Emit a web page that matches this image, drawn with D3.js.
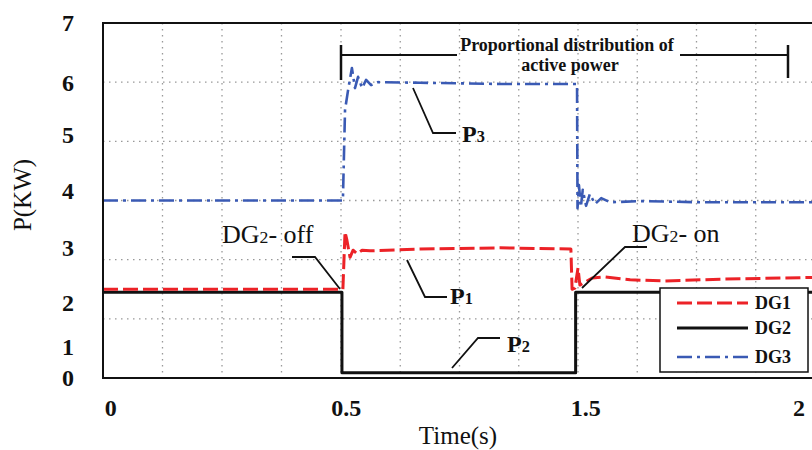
<!DOCTYPE html>
<html>
<head>
<meta charset="utf-8">
<script src="https://cdn.jsdelivr.net/npm/d3@7"></script>
<style>
    body { margin: 0; background: #fff; }
    svg text { font-family: "Liberation Serif", "Times New Roman", serif; fill: #111; }
</style>
</head>
<body>
<svg id="chart" width="812" height="450"></svg>
<script>
// Tick labels as printed on the figure (positions given in plot units)
var xTickText = ['0', '0.5', '1.5', '2'];
var xTickAt = [0.01, 0.51, 1.51, 1.96];
var yTickText = ['7', '6', '5', '4', '3', '2', '1', '0'];
var yTickAt = [7.0, 6.0, 5.12, 4.17, 3.2, 2.28, 1.53, 1.0];

// Grid
var xGrid = [0.125, 0.25, 0.375, 0.5, 0.75, 1.0, 1.25, 1.5, 1.625, 1.75, 1.875];
var yGrid = [2, 3, 4, 5, 6];

// Series: time (s), power (plot units)
var dg1T = [0, 0.5, 0.508, 0.517, 0.525, 0.538, 0.551, 0.568, 0.589, 0.622, 0.833, 1.171, 1.47, 1.475, 1.487, 1.5, 1.504, 1.513, 1.53, 1.557, 1.61, 1.684, 1.8, 2.0];
var dg1P = [2.5, 2.5, 2.5, 3.47, 3.33, 3.04, 3.16, 3.10, 3.16, 3.15, 3.18, 3.2, 3.18, 2.5, 2.52, 2.86, 2.57, 2.61, 2.69, 2.71, 2.66, 2.64, 2.67, 2.7];

var dg2T = [0, 0.504, 0.504, 1.49, 1.49, 2.0];
var dg2P = [2.45, 2.45, 1.09, 1.09, 2.45, 2.45];

var dg3T = [0, 0.508, 0.517, 0.53, 0.546, 0.559, 0.572, 0.589, 0.606, 0.627, 0.656, 0.833, 1.17, 1.487, 1.496, 1.498, 1.502, 1.506, 1.51, 1.517, 1.525, 1.536, 1.549, 1.568, 1.631, 1.757, 2.0];
var dg3P = [4.0, 4.0, 5.53, 5.87, 6.24, 5.9, 6.09, 5.9, 6.04, 5.95, 6.0, 5.99, 5.97, 5.97, 5.97, 3.87, 4.26, 3.89, 4.18, 3.91, 4.11, 3.94, 4.04, 3.97, 3.99, 3.97, 3.97];

var legendNames = ['DG1', 'DG2', 'DG3'];

var svg = d3.select('#chart');
var L = 103, T = 23, R = 815, B = 378;

var x = d3.scaleLinear().domain([0, 0.5, 1.5, 2]).range([L, 341, 578, R]);
var y = d3.scaleLinear().domain([1, 7]).range([B, T]);

// dotted grid
svg.append('g').selectAll('line').data(xGrid).enter().append('line')
    .attr('x1', function(d){ return x(d); }).attr('x2', function(d){ return x(d); })
    .attr('y1', T).attr('y2', B)
    .attr('stroke', '#999').attr('stroke-width', 1.3).attr('stroke-dasharray', '1.5,4.5');
svg.append('g').selectAll('line').data(yGrid).enter().append('line')
    .attr('x1', L).attr('x2', R)
    .attr('y1', function(d){ return y(d); }).attr('y2', function(d){ return y(d); })
    .attr('stroke', '#999').attr('stroke-width', 1.3).attr('stroke-dasharray', '1.5,4.5');

// series
function pts(ts, ps){ return ts.map(function(t, i){ return [t, ps[i]]; }); }
var line = d3.line().x(function(d){ return x(d[0]); }).y(function(d){ return y(d[1]); });

var series = [
    {data: pts(dg2T, dg2P), color: '#111', width: 3, dash: null},
    {data: pts(dg3T, dg3P), color: '#3a5ab4', width: 2.6, dash: '15,5,3,5'},
    {data: pts(dg1T, dg1P), color: '#ec2227', width: 3, dash: '15,5'}
];
svg.append('g').selectAll('path').data(series).enter().append('path')
    .attr('d', function(d){ return line(d.data); })
    .attr('fill', 'none')
    .attr('stroke', function(d){ return d.color; })
    .attr('stroke-width', function(d){ return d.width; })
    .attr('stroke-dasharray', function(d){ return d.dash; })
    .attr('stroke-linejoin', 'round');

// frame
svg.append('rect').attr('x', L).attr('y', T).attr('width', R - L).attr('height', B - T)
    .attr('fill', 'none').attr('stroke', '#111').attr('stroke-width', 2);

// tick labels
svg.append('g').selectAll('text').data(xTickText).enter().append('text')
    .attr('x', function(d, i){ return x(xTickAt[i]) + 3; })
    .attr('y', 416)
    .attr('text-anchor', 'middle')
    .attr('font-size', 24).attr('font-weight', 'bold')
    .text(function(d){ return d; });
svg.append('g').selectAll('text').data(yTickText).enter().append('text')
    .attr('x', 68)
    .attr('y', function(d, i){ return y(yTickAt[i]); })
    .attr('dy', '0.35em')
    .attr('text-anchor', 'middle')
    .attr('font-size', 24).attr('font-weight', 'bold')
    .text(function(d){ return d; });

// axis titles
svg.append('text').attr('x', 458).attr('y', 444).attr('text-anchor', 'middle')
    .attr('font-size', 25).text('Time(s)');
svg.append('text').attr('transform', 'translate(31,195) rotate(-90)').attr('text-anchor', 'middle')
    .attr('font-size', 25).text('P(KW)');

// annotations
var ann = svg.append('g').attr('stroke', '#111').attr('fill', 'none');
function seg(p){ ann.append('polyline').attr('points', p.map(function(q){ return q.join(','); }).join(' ')).attr('stroke-width', 1.8); }

// proportional distribution bracket
ann.append('line').attr('x1', x(0.5)).attr('x2', x(0.5)).attr('y1', 45).attr('y2', 80).attr('stroke-width', 2.5);
ann.append('line').attr('x1', 788).attr('x2', 788).attr('y1', 45).attr('y2', 78).attr('stroke-width', 2.5);
seg([[x(0.5), 55], [457, 55]]);
seg([[680, 55], [788, 55]]);
svg.append('text').attr('x', 567).attr('y', 51).attr('text-anchor', 'middle')
    .attr('font-size', 18).attr('font-weight', 'bold').text('Proportional distribution of');
svg.append('text').attr('x', 570).attr('y', 71).attr('text-anchor', 'middle')
    .attr('font-size', 18).attr('font-weight', 'bold').text('active power');

// leaders
seg([[413, 88], [433, 133], [456, 133]]);
seg([[292, 257], [315, 257], [340, 289]]);
seg([[407, 260], [425, 297], [447, 297]]);
seg([[452, 368], [478, 338], [500, 338]]);
seg([[647, 247], [625, 247], [582, 288]]);

function label(tx, ty, main, sub, rest, size, weight)
{
    var t = svg.append('text').attr('x', tx).attr('y', ty).attr('font-size', size).attr('font-weight', weight);
    t.append('tspan').text(main);
    t.append('tspan').attr('font-size', size * 0.68).text(sub);
    if (rest)
        t.append('tspan').text(rest);
}
label(462, 142, 'P', '3', null, 24, 'bold');
label(450, 304, 'P', '1', null, 24, 'bold');
label(507, 352, 'P', '2', null, 24, 'bold');
label(222, 243, 'DG', '2', '- off', 26, 'normal');
label(632, 242, 'DG', '2', '- on', 26, 'normal');

// legend
var lg = svg.append('g');
lg.append('rect').attr('x', 660).attr('y', 288).attr('width', 148).attr('height', 84)
    .attr('fill', '#fff').attr('stroke', '#111').attr('stroke-width', 1.5);
var legendY = [303, 328, 357];
var legendSeries = [series[2], series[0], series[1]];
legendNames.forEach(function(n, i)
{
    var s = legendSeries[i];
    lg.append('line').attr('x1', 677).attr('x2', 748).attr('y1', legendY[i]).attr('y2', legendY[i])
        .attr('stroke', s.color).attr('stroke-width', s.width).attr('stroke-dasharray', s.dash);
    lg.append('text').attr('x', 755).attr('y', legendY[i]).attr('dy', '0.35em')
        .attr('font-size', 18).attr('font-weight', 'bold').text(n);
});
</script>
</body>
</html>
